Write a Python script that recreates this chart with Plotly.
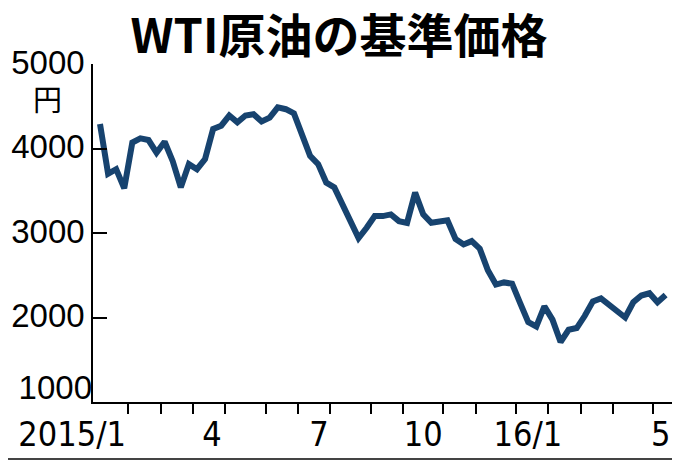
import plotly.graph_objects as go
import numpy as np

# ---- data (weekly settlement, yen/kl) ----
weekly_price = [4290, 3700, 3755, 3530, 4070, 4120, 4100, 3950, 4080, 3850,
                3540, 3815, 3755, 3875, 4230, 4270, 4390, 4310, 4390, 4405,
                4320, 4365, 4487, 4465, 4415, 4170, 3914, 3815, 3597, 3540,
                3350, 3130, 2940, 3062, 3200, 3200, 3220, 3140, 3120, 3478,
                3220, 3121, 3141, 3150, 2930, 2865, 2904, 2815, 2560, 2390,
                2415, 2400, 2170, 1945, 1894, 2132, 1975, 1710, 1855, 1875,
                2020, 2191, 2225, 2152, 2073, 2000, 2180, 2260, 2287, 2180,
                2265]
weeks_per_month = [4, 4, 4, 4, 5, 4, 4, 5, 4, 5, 4, 5, 4, 4, 4, 5, 2]
x_labels = ["2015/1", "4", "7", "10", "16/1", "5"]
y_ticks = [2000, 3000, 4000, 5000]
y_base_tick = [1000]
title_text = "WTI原油の基準価格"
unit_text = "円"

weeks = list(range(len(weekly_price)))
month_bounds = list(np.cumsum(weeks_per_month)[:-1] - 0.5)
# right edge of each x label (labels drawn to the left of these positions)
label_pos = [3.3, 15.15, 28.4, 42.5, 57.3, 70.7]

# the page puts the figure 8px in from the top-left corner
OFF = 8
W, H = 680 - OFF, 462 - OFF
L, R, T, B = 93 - OFF, 4, 64 - OFF, 60
pw, ph = W - L - R, H - T - B

def px(xr):
    return (xr - OFF - L) / pw

def py(yr):
    return (H - B - (yr - OFF)) / ph

Y_RANGE = [1000, 5000]
yfont = dict(family="Liberation Sans", size=33, color="black")

fig = go.Figure()
fig.add_trace(go.Scatter(
    x=weeks, y=weekly_price, mode="lines",
    line=dict(color="#17436f", width=6, shape="linear"),
    hoverinfo="skip", showlegend=False))
# empty trace so the base-label axis (y2) gets drawn
fig.add_trace(go.Scatter(x=[], y=[], yaxis="y2", mode="lines",
                         hoverinfo="skip", showlegend=False))

fig.update_layout(
    width=W, height=H,
    margin=dict(l=L, r=R, t=T, b=B, autoexpand=False),
    paper_bgcolor="white", plot_bgcolor="white",
    title=dict(text=title_text, x=(339 - OFF) / W, xanchor="center",
               y=1 - (37 - OFF) / H, yanchor="middle", yref="container",
               font=dict(family="Noto Sans CJK JP", size=47, color="black", weight=700)),
    xaxis=dict(range=[(93 - 100) / 8.08, (676 - 100) / 8.08], automargin=False,
               showgrid=False, zeroline=False,
               showline=True, linecolor="black", linewidth=1.5,
               tickmode="array", tickvals=label_pos, ticktext=x_labels,
               ticks="", ticklabelposition="outside left",
               ticklabelstandoff=1, ticklabeloverflow="allow",
               tickfont=dict(family="DejaVu Sans Condensed, Liberation Sans",
                             size=34, color="black"),
               minor=dict(tickmode="array", tickvals=month_bounds, ticks="outside",
                          ticklen=10, tickwidth=1.5, tickcolor="black", showgrid=False)),
    yaxis=dict(range=Y_RANGE, automargin=False, showgrid=False, zeroline=False,
               showline=True, linecolor="black", linewidth=1.5,
               tickmode="array", tickvals=y_ticks,
               ticks="inside", ticklen=14, tickwidth=1.5, tickcolor="black",
               ticklabelstandoff=0, ticklabelshift=-2,
               tickfont=yfont),
    yaxis2=dict(range=Y_RANGE, overlaying="y", side="left", anchor="x",
                automargin=False, showgrid=False, zeroline=False, showline=False,
                tickmode="array", tickvals=y_base_tick, ticks="",
                ticklabelstandoff=0, ticklabelshift=-15, ticklabeloverflow="allow",
                tickfont=yfont),
    annotations=[dict(text=unit_text, xref="paper", yref="paper",
                      x=px(47), y=py(98), xanchor="center", yanchor="middle",
                      showarrow=False,
                      font=dict(family="Noto Sans CJK JP", size=29, color="black"))],
    shapes=[dict(type="line", xref="paper", yref="paper",
                 x0=px(678), x1=px(678), y0=py(460), y1=py(0),
                 line=dict(color="#444444", width=2)),
            dict(type="line", xref="paper", yref="paper",
                 x0=px(0), x1=px(679), y0=py(459), y1=py(459),
                 line=dict(color="#444444", width=2))],
)

fig.write_html("out.html")
